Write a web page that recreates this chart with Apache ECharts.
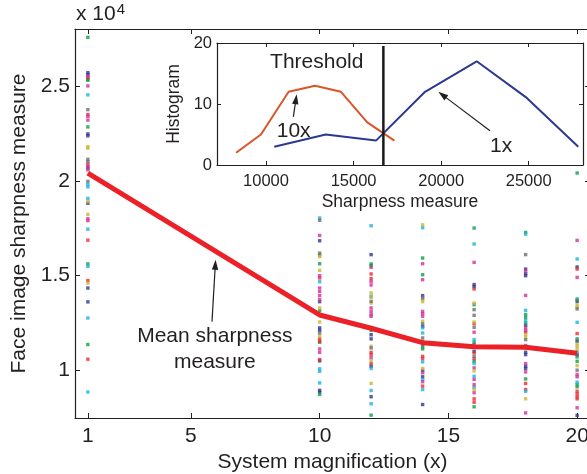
<!DOCTYPE html>
<html>
<head>
<meta charset="utf-8">
<script src="https://cdn.jsdelivr.net/npm/echarts@6/dist/echarts.min.js"></script>
<style>
  html, body { margin: 0; padding: 0; background: #fff; }
  #chart { width: 587px; height: 474px; }
</style>
</head>
<body>
<div id="chart"></div>
<script>
// Per-face sharpness samples at each magnification: [sharpness, colour key]
const mag1 = [[27560,'g'],[25700,'b'],[25600,'b'],[25510,'m'],[25440,'r'],[25350,'g'],[25300,'g'],
  [25000,'m'],[24530,'c'],[23750,'k'],[23490,'r'],[23400,'m'],[23200,'m'],[22840,'g'],[22470,'b'],
  [22370,'b'],[21800,'y'],[21720,'y'],[21130,'k'],[21010,'k'],[20880,'r'],[20750,'m'],[20680,'b'],
  [20580,'m'],[19970,'k'],[19800,'c'],[19680,'c'],[19070,'c'],[18910,'y'],[18820,'b'],[18230,'y'],
  [18000,'m'],[17900,'m'],[17450,'c'],[16870,'r'],[15620,'g'],[15490,'c'],[14740,'r'],[14610,'y'],
  [14350,'b'],[13620,'b'],[12770,'c'],[11370,'g'],[10600,'r'],[8870,'c']];
const mag10 = [[18040,'c'],[17920,'k'],[17120,'m'],[16840,'b'],[16190,'k'],[16090,'g'],[16000,'y'],
  [15630,'g'],[15280,'y'],[15000,'m'],[14880,'r'],[14680,'c'],[14350,'m'],[14170,'m'],[13950,'m'],
  [13740,'m'],[13630,'b'],[13300,'y'],[13160,'g'],[12950,'g'],[12560,'y'],[12250,'b'],[12120,'b'],
  [11980,'k'],[11810,'y'],[11670,'r'],[11540,'r'],[11490,'g'],[11140,'m'],[10960,'m'],[10580,'r'],
  [10510,'b'],[10090,'c'],[9960,'c'],[9350,'c'],[8960,'b'],[8860,'b'],[8740,'g']];
const mag12 = [[17630,'c'],[16110,'b'],[15620,'g'],[15530,'g'],[15440,'m'],[15090,'r'],[14840,'r'],
  [14700,'m'],[14510,'m'],[14090,'y'],[13910,'c'],[13860,'y'],[13650,'k'],[13560,'y'],[13300,'m'],
  [13120,'m'],[12950,'m'],[12860,'m'],[12250,'b'],[12120,'g'],[11890,'b'],[11670,'b'],[11280,'y'],
  [11190,'k'],[10960,'r'],[10840,'r'],[10670,'m'],[10530,'y'],[10370,'r'],[10230,'b'],[10110,'c'],
  [9320,'y'],[8950,'c'],[8620,'b'],[8250,'c'],[7650,'g']];
const mag14 = [[17680,'y'],[17530,'c'],[15930,'g'],[15630,'m'],[15050,'g'],[14790,'m'],[13950,'b'],
  [13830,'k'],[13740,'y'],[13630,'y'],[13120,'m'],[13000,'m'],[12860,'m'],[12600,'y'],[12460,'k'],
  [12330,'b'],[12250,'c'],[11980,'c'],[11720,'k'],[11540,'k'],[11370,'k'],[11250,'g'],[11140,'g'],
  [10750,'r'],[10630,'r'],[10460,'c'],[10110,'y'],[10000,'b'],[9880,'m'],[9670,'b'],[9530,'c'],
  [9410,'m'],[9180,'r'],[9000,'c'],[8210,'b']];
const mag16 = [[17510,'g'],[16670,'c'],[15700,'m'],[14530,'b'],[14420,'b'],[14300,'r'],[13560,'y'],
  [13470,'g'],[13210,'k'],[12910,'k'],[12560,'y'],[12470,'r'],[12280,'k'],[12020,'m'],[11630,'c'],
  [11490,'g'],[11370,'k'],[11210,'y'],[11010,'b'],[10930,'r'],[10750,'k'],[10630,'r'],[10490,'g'],
  [10370,'c'],[10140,'m'],[9980,'y'],[9700,'c'],[9530,'m'],[9260,'m'],[9120,'c'],[9000,'y'],
  [8830,'m'],[8510,'r'],[8330,'r'],[8090,'g']];
const mag18 = [[17280,'g'],[17190,'c'],[16110,'k'],[15350,'b'],[15230,'m'],[15110,'b'],[15000,'b'],
  [13960,'m'],[13170,'c'],[12950,'g'],[12790,'g'],[12630,'c'],[12510,'g'],[12380,'b'],[12250,'m'],
  [12120,'m'],[12020,'r'],[11890,'y'],[11770,'y'],[11630,'k'],[11320,'k'],[11140,'y'],[10960,'b'],
  [10840,'b'],[10370,'m'],[10230,'b'],[10110,'b'],[9930,'m'],[9560,'g'],[9320,'r'],[9000,'r'],
  [8910,'c'],[8510,'y'],[7770,'m']];
const mag20 = [[20410,'g'],[16860,'m'],[15880,'c'],[15460,'b'],[15350,'r'],[14910,'m'],[13770,'g'],
  [13650,'b'],[13470,'y'],[13350,'y'],[13250,'k'],[12540,'c'],[11950,'r'],[11670,'g'],[11540,'b'],
  [11400,'y'],[11280,'y'],[11140,'y'],[10980,'c'],[10840,'b'],[10720,'g'],[10490,'g'],[10260,'y'],
  [10020,'k'],[9790,'m'],[9670,'m'],[9390,'c'],[9260,'g'],[9140,'g'],[8910,'r'],[8770,'r'],
  [8620,'r'],[8510,'r'],[8040,'m'],[7640,'b']];

const magnifications = [1, 10, 12, 14, 16, 18, 20];
const samples = [mag1, mag10, mag12, mag14, mag16, mag18, mag20];
const meanSharpness = [20400, 12930, 12230, 11470, 11260, 11230, 10910];

const xTicks = [1, 5, 10, 15, 20];
const yTicks = [10000, 15000, 20000, 25000];

// Inset histogram (bin centre, count)
const binsAt10x = [8290, 9710, 11290, 12800, 14280, 15780, 17330];
const countsAt10x = [2, 5, 12, 13, 12, 7, 4];
const binsAt1x = [10470, 13410, 16280, 19080, 22030, 24890, 27830];
const countsAt1x = [3, 5, 4, 12, 17, 11, 3];
const threshold = 16700;
const insetXTicks = [10000, 15000, 20000, 25000];
const insetYTicks = [0, 10, 20];

// Annotations, in data coordinates of the main plot (grid 0) or the inset (grid 1)
const annotations = [
  { grid: 0, text: 'Mean sharpness\nmeasure', at: [5.93, 11120], align: 'center', from: [5.82, 12580], to: [5.96, 15840] },
  { grid: 1, text: 'Threshold', at: [10230, 16.8], align: 'left' },
  { grid: 1, text: '10x', at: [10610, 5.6], align: 'left', from: [11560, 7.9], to: [11750, 11.6] },
  { grid: 1, text: '1x', at: [22790, 3.1], align: 'left', from: [22790, 5.6], to: [19840, 12.0] }
];

const dotColors = { b: '#2e3592', g: '#0ba14b', r: '#ee2a2e', c: '#1cb2e2', m: '#d4309a', y: '#c9b635', k: '#6e6e70' };
const FONT = "'Liberation Sans', Arial, Helvetica, sans-serif";
const INK = '#231f20';

const chart = echarts.init(document.getElementById('chart'), null, { renderer: 'canvas' });

// Collect the scattered samples into one series per dot colour
const byColor = {};
Object.keys(dotColors).forEach(k => { byColor[k] = []; });
samples.forEach((col, i) => {
  col.forEach(([v, k]) => { byColor[k].push([magnifications[i], v]); });
});
const scatterSeries = Object.keys(dotColors).map(k => ({
  type: 'scatter', xAxisIndex: 0, yAxisIndex: 0, z: 2,
  symbol: 'rect', symbolSize: 3.4,
  itemStyle: { color: dotColors[k] },
  data: byColor[k], silent: true
}));

const axisLine = { show: true, onZero: false, lineStyle: { color: INK, width: 1.2 } };
function boxAxis(extra) {
  return Object.assign({
    type: 'value', axisLine: axisLine, splitLine: { show: false }
  }, extra);
}

const option = {
  animation: false,
  backgroundColor: '#fff',
  textStyle: { fontFamily: FONT },
  grid: [
    { left: 75, top: 29, width: 515, height: 389, z: 1, containLabel: false, outerBoundsMode: 'none' },
    { left: 217, top: 43, width: 366, height: 122, show: true, backgroundColor: '#fff', borderWidth: 0, z: 3,
      containLabel: false, outerBoundsMode: 'none' }
  ],
  xAxis: [
    boxAxis({
      gridIndex: 0, position: 'bottom', min: 0.5, max: 20.5,
      axisTick: { inside: true, length: 5, customValues: xTicks, lineStyle: { color: INK } },
      axisLabel: { customValues: xTicks, margin: 8, fontSize: 21, color: INK, fontFamily: FONT },
      name: 'System magnification (x)', nameLocation: 'middle', nameGap: 26,
      nameTextStyle: { fontSize: 21, color: INK, fontFamily: FONT }
    }),
    boxAxis({
      gridIndex: 0, position: 'top', min: 0.5, max: 20.5,
      axisTick: { inside: true, length: 5, customValues: xTicks, lineStyle: { color: INK } },
      axisLabel: { show: false }
    }),
    boxAxis({
      gridIndex: 1, position: 'bottom', min: 7200, max: 28100, z: 4,
      axisTick: { inside: true, length: 4, customValues: insetXTicks, lineStyle: { color: INK } },
      axisLabel: { customValues: insetXTicks, margin: 8, fontSize: 16.5, color: INK, fontFamily: FONT,
                   formatter: v => String(v) },
      name: 'Sharpness measure', nameLocation: 'middle', nameGap: 28,
      nameTextStyle: { fontSize: 17.5, color: INK, fontFamily: FONT }
    }),
    boxAxis({
      gridIndex: 1, position: 'top', min: 7200, max: 28100, z: 4,
      axisTick: { inside: true, length: 4, customValues: insetXTicks, lineStyle: { color: INK } },
      axisLabel: { show: false }
    })
  ],
  yAxis: [
    boxAxis({
      gridIndex: 0, position: 'left', min: 7500, max: 28000,
      axisTick: { inside: true, length: 5, customValues: yTicks, lineStyle: { color: INK } },
      axisLabel: { customValues: yTicks, margin: 5, fontSize: 21, color: INK, fontFamily: FONT,
                   formatter: v => String(v / 10000) },
      name: 'Face image sharpness measure', nameLocation: 'middle', nameGap: 37, nameRotate: 90,
      nameTextStyle: { fontSize: 21, color: INK, fontFamily: FONT }
    }),
    boxAxis({
      gridIndex: 0, position: 'right', min: 7500, max: 28000,
      axisTick: { inside: true, length: 5, customValues: yTicks, lineStyle: { color: INK } },
      axisLabel: { show: false }
    }),
    boxAxis({
      gridIndex: 1, position: 'left', min: 0, max: 20, z: 4,
      axisTick: { inside: true, length: 4, customValues: insetYTicks, lineStyle: { color: INK } },
      axisLabel: { customValues: insetYTicks, margin: 5, fontSize: 16.5, color: INK, fontFamily: FONT },
      name: 'Histogram', nameLocation: 'middle', nameGap: 29, nameRotate: 90,
      nameTextStyle: { fontSize: 17.5, color: INK, fontFamily: FONT }
    }),
    boxAxis({
      gridIndex: 1, position: 'right', min: 0, max: 20, z: 4,
      axisTick: { inside: true, length: 4, customValues: insetYTicks, lineStyle: { color: INK } },
      axisLabel: { show: false }
    })
  ],
  series: scatterSeries.concat([
    {
      type: 'line', xAxisIndex: 0, yAxisIndex: 0, z: 3, silent: true,
      symbol: 'none',
      lineStyle: { color: '#ec2027', width: 5, join: 'round' },
      data: magnifications.map((m, i) => [m, meanSharpness[i]])
    },
    {
      type: 'line', xAxisIndex: 2, yAxisIndex: 2, z: 5, silent: true,
      symbol: 'none', lineStyle: { color: '#d9552c', width: 2 },
      data: binsAt10x.map((b, i) => [b, countsAt10x[i]])
    },
    {
      type: 'line', xAxisIndex: 2, yAxisIndex: 2, z: 5, silent: true,
      symbol: 'none', lineStyle: { color: '#2b3990', width: 2 },
      data: binsAt1x.map((b, i) => [b, countsAt1x[i]])
    },
    {
      type: 'line', xAxisIndex: 2, yAxisIndex: 2, z: 6, silent: true,
      symbol: 'none', lineStyle: { color: '#1a1a1a', width: 2.5 },
      data: [[threshold, 0], [threshold, 19.5]]
    }
  ])
};

chart.setOption(option);

// Text callouts and their arrows, placed through the axes' own coordinate conversion
function toPx(grid, p) {
  return chart.convertToPixel({ xAxisIndex: grid * 2, yAxisIndex: grid * 2 }, p);
}
const graphics = [{
  type: 'text', left: 76, top: 2, z: 10,
  style: {
    text: 'x 10{sup|4}', fill: INK, font: '21px ' + FONT,
    rich: { sup: { fontSize: 15, verticalAlign: 'top', padding: [0, 0, 10, 1], fill: INK } }
  }
}];
annotations.forEach(a => {
  const p = toPx(a.grid, a.at);
  graphics.push({
    type: 'text', x: p[0], y: p[1], z: 20, silent: true,
    style: { text: a.text, fill: INK, font: '21px ' + FONT, align: a.align, verticalAlign: 'middle', lineHeight: 26 }
  });
  if (a.from) {
    const s = toPx(a.grid, a.from), e = toPx(a.grid, a.to);
    const dx = e[0] - s[0], dy = e[1] - s[1], len = Math.hypot(dx, dy);
    const ux = dx / len, uy = dy / len, head = 10, half = 3.2;
    const bx = e[0] - ux * head, by = e[1] - uy * head;
    graphics.push({
      type: 'line', z: 20, silent: true,
      shape: { x1: s[0], y1: s[1], x2: bx + ux * 2, y2: by + uy * 2 },
      style: { stroke: INK, lineWidth: 1.2 }
    });
    graphics.push({
      type: 'polygon', z: 20, silent: true,
      shape: { points: [[e[0], e[1]], [bx - uy * half, by + ux * half], [bx + uy * half, by - ux * half]] },
      style: { fill: INK }
    });
  }
});
chart.setOption({ graphic: graphics });
</script>
</body>
</html>
